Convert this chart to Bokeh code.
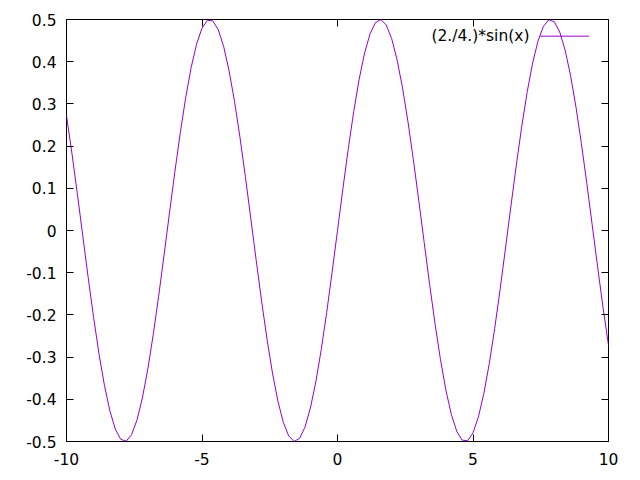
from bokeh.plotting import figure
from bokeh.models import Range1d, LinearAxis, FixedTicker, PrintfTickFormatter, CustomJSTickFormatter, Label
from bokeh.embed import file_html
from bokeh.resources import INLINE

# sample points of (2./4.)*sin(x)
x_vals = [-10.0, -9.8, -9.6, -9.4, -9.2, -9.0, -8.8, -8.6, -8.4, -8.2,
          -8.0, -7.8, -7.6, -7.4, -7.2, -7.0, -6.8, -6.6, -6.4, -6.2,
          -6.0, -5.8, -5.6, -5.4, -5.2, -5.0, -4.8, -4.6, -4.4, -4.2,
          -4.0, -3.8, -3.6, -3.4, -3.2, -3.0, -2.8, -2.6, -2.4, -2.2,
          -2.0, -1.8, -1.6, -1.4, -1.2, -1.0, -0.8, -0.6, -0.4, -0.2,
          0.0, 0.2, 0.4, 0.6, 0.8, 1.0, 1.2, 1.4, 1.6, 1.8,
          2.0, 2.2, 2.4, 2.6, 2.8, 3.0, 3.2, 3.4, 3.6, 3.8,
          4.0, 4.2, 4.4, 4.6, 4.8, 5.0, 5.2, 5.4, 5.6, 5.8,
          6.0, 6.2, 6.4, 6.6, 6.8, 7.0, 7.2, 7.4, 7.6, 7.8,
          8.0, 8.2, 8.4, 8.6, 8.8, 9.0, 9.2, 9.4, 9.6, 9.8, 10.0]
y_vals = [0.2720, 0.1832, 0.0872, -0.0124, -0.1114, -0.2061, -0.2925, -0.3672, -0.4273, -0.4704,
          -0.4947, -0.4993, -0.4840, -0.4494, -0.3968, -0.3285, -0.2471, -0.1558, -0.0583, 0.0415,
          0.1397, 0.2323, 0.3156, 0.3864, 0.4417, 0.4795, 0.4981, 0.4968, 0.4758, 0.4358,
          0.3784, 0.3059, 0.2213, 0.1278, 0.0292, -0.0706, -0.1675, -0.2578, -0.3377, -0.4042,
          -0.4546, -0.4869, -0.4998, -0.4927, -0.4660, -0.4207, -0.3587, -0.2823, -0.1947, -0.0993,
          0.0, 0.0993, 0.1947, 0.2823, 0.3587, 0.4207, 0.4660, 0.4927, 0.4998, 0.4869,
          0.4546, 0.4042, 0.3377, 0.2578, 0.1675, 0.0706, -0.0292, -0.1278, -0.2213, -0.3059,
          -0.3784, -0.4358, -0.4758, -0.4968, -0.4981, -0.4795, -0.4417, -0.3864, -0.3156, -0.2323,
          -0.1397, -0.0415, 0.0583, 0.1558, 0.2471, 0.3285, 0.3968, 0.4494, 0.4840, 0.4993,
          0.4947, 0.4704, 0.4273, 0.3672, 0.2925, 0.2061, 0.1114, 0.0124, -0.0872, -0.1832, -0.2720]

x_ticks = [-10, -5, 0, 5, 10]
y_ticks = [-0.5, -0.4, -0.3, -0.2, -0.1, 0.0, 0.1, 0.2, 0.3, 0.4, 0.5]
series_label = "(2./4.)*sin(x)"
line_color = "#9400D3"
FONT = "DejaVu Sans"
FSIZE = "15.5px"

p = figure(width=632, height=472, x_range=Range1d(-10, 10), y_range=Range1d(-0.5, 0.5),
           output_backend="svg", toolbar_location=None,
           min_border_left=66, min_border_right=24, min_border_top=19, min_border_bottom=31)
p.grid.visible = False
p.outline_line_color = "black"
p.outline_line_width = 1
p.outline_line_alpha = 1
p.background_fill_color = "white"
p.border_fill_color = "white"

def style_axis(ax, ticks, show_labels, standoff):
    ax.ticker = FixedTicker(ticks=ticks)
    ax.major_tick_in = 7
    ax.major_tick_out = 0
    ax.minor_tick_in = 0
    ax.minor_tick_out = 0
    ax.major_tick_line_color = "black"
    ax.axis_line_color = None
    if show_labels:
        ax.formatter = PrintfTickFormatter(format="%g")
        ax.major_label_text_font = FONT
        ax.major_label_text_font_size = FSIZE
        ax.major_label_text_color = "black"
        ax.major_label_standoff = standoff
    else:
        ax.formatter = CustomJSTickFormatter(code="return '';")
        ax.major_label_standoff = 0

style_axis(p.xaxis[0], x_ticks, True, 11)
style_axis(p.yaxis[0], y_ticks, True, 10)

top_ax = LinearAxis()
style_axis(top_ax, x_ticks, False, 0)
p.add_layout(top_ax, "above")
right_ax = LinearAxis()
style_axis(right_ax, y_ticks, False, 0)
p.add_layout(right_ax, "right")

p.line(x_vals, y_vals, line_color=line_color, line_width=1)

# gnuplot-style key: label on the left, sample line on the right
key_y = 0.4605
p.add_layout(Label(x=7.085, y=key_y, text=series_label, text_align="right", text_baseline="middle",
                   text_font=FONT, text_font_size=FSIZE, text_color="black"))
p.line([7.49, 9.28], [key_y, key_y], line_color=line_color, line_width=1)

open("out.html", "w").write(file_html(p, INLINE))
